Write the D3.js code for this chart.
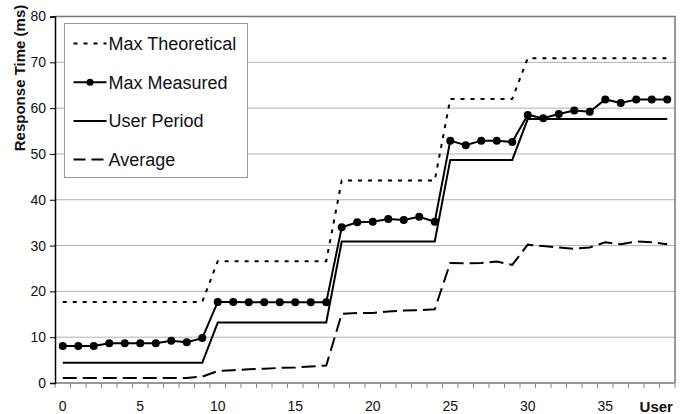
<!DOCTYPE html>
<html>
<head>
<meta charset="utf-8">
<script src="https://cdn.jsdelivr.net/npm/d3@7"></script>
<style>
  body { margin: 0; background: #fff; }
  text { font-family: "Liberation Sans", Arial, sans-serif; }
</style>
</head>
<body>
<div id="chart"></div>
<script>
// users 0..39
const users = d3.range(0, 40)
const xTickValues = [0, 5, 10, 15, 20, 25, 30, 35, 39]
const yTickValues = [0, 10, 20, 30, 40, 50, 60, 70, 80]

const maxTheoretical = [
  17.7, 17.7, 17.7, 17.7, 17.7, 17.7, 17.7, 17.7, 17.7, 17.7,
  26.6, 26.6, 26.6, 26.6, 26.6, 26.6, 26.6, 26.6,
  44.2, 44.2, 44.2, 44.2, 44.2, 44.2, 44.2,
  62.0, 62.0, 62.0, 62.0, 62.0,
  70.9, 70.9, 70.9, 70.9, 70.9, 70.9, 70.9, 70.9, 70.9, 70.9,
]
const maxMeasured = [
  8.1, 8.1, 8.1, 8.7, 8.7, 8.7, 8.7, 9.2, 8.9, 9.8,
  17.7, 17.7, 17.6, 17.6, 17.6, 17.6, 17.6, 17.6,
  34.0, 35.1, 35.2, 35.8, 35.6, 36.3, 35.2,
  52.9, 51.9, 52.9, 52.9, 52.6,
  58.5, 57.8, 58.7, 59.5, 59.2, 61.9, 61.1, 61.9, 61.9, 61.9,
]
const userPeriod = [
  4.4, 4.4, 4.4, 4.4, 4.4, 4.4, 4.4, 4.4, 4.4, 4.4,
  13.2, 13.2, 13.2, 13.2, 13.2, 13.2, 13.2, 13.2,
  30.9, 30.9, 30.9, 30.9, 30.9, 30.9, 30.9,
  48.7, 48.7, 48.7, 48.7, 48.7,
  57.6, 57.6, 57.6, 57.6, 57.6, 57.6, 57.6, 57.6, 57.6, 57.6,
]
const average = [
  1.1, 1.1, 1.1, 1.1, 1.1, 1.1, 1.1, 1.1, 1.1, 1.4,
  2.6, 2.8, 3.0, 3.1, 3.3, 3.4, 3.6, 3.8,
  15.1, 15.3, 15.3, 15.6, 15.8, 15.9, 16.1,
  26.2, 26.1, 26.2, 26.5, 25.8,
  30.2, 29.9, 29.6, 29.3, 29.6, 30.7, 30.3, 30.9, 30.7, 30.3,
]

const seriesNames = ['Max Theoretical', 'Max Measured', 'User Period', 'Average']
const seriesData = [maxTheoretical, maxMeasured, userPeriod, average]

const width = 695,
  height = 414

const styles = {
  'Max Theoretical': { dash: '4,6', dots: false },
  'Max Measured': { dash: null, dots: true },
  'User Period': { dash: null, dots: false },
  'Average': { dash: '14,6', dots: false },
}

const svg = d3
  .select('#chart')
  .append('svg')
  .attr('width', width)
  .attr('height', height)

const x = d3.scaleBand().domain(users).range([55, 675]).padding(0)
const y = d3.scaleLinear().domain([0, 80]).range([383, 16.5])
const cx = d => x(d) + x.bandwidth() / 2

// gridlines
svg
  .append('g')
  .selectAll('line')
  .data(yTickValues.filter(v => v > 0 && v < 80))
  .enter()
  .append('line')
  .attr('x1', x.range()[0])
  .attr('x2', x.range()[1])
  .attr('y1', d => y(d))
  .attr('y2', d => y(d))
  .attr('stroke', '#b0b0b0')
  .attr('stroke-width', 1)

// top and right border
svg
  .append('path')
  .attr('d', `M${x.range()[0]},${y(80)}H${x.range()[1]}V${y(0)}`)
  .attr('fill', 'none')
  .attr('stroke', '#777')
  .attr('stroke-width', 1.5)

// x axis: ticks on category boundaries
const xAxisG = svg.append('g').attr('transform', `translate(0,${y(0)})`)
xAxisG
  .append('line')
  .attr('x1', x.range()[0])
  .attr('x2', x.range()[1])
  .attr('stroke', '#777')
  .attr('stroke-width', 1.5)
xAxisG
  .selectAll('.bt')
  .data(d3.range(0, 41))
  .enter()
  .append('line')
  .attr('class', 'bt')
  .attr('x1', d => (d < 40 ? x(d) : x.range()[1]))
  .attr('x2', d => (d < 40 ? x(d) : x.range()[1]))
  .attr('y1', 0)
  .attr('y2', 5)
  .attr('stroke', '#888')

const xAxis = d3
  .axisBottom(x)
  .tickValues(xTickValues)
  .tickSize(0)
  .tickPadding(18)
  .tickFormat(d => (d === 39 ? 'User' : d))
const xLabels = svg
  .append('g')
  .attr('transform', `translate(0,${y(0)})`)
  .call(xAxis)
xLabels.select('.domain').remove()
xLabels
  .selectAll('text')
  .attr('font-size', 14)
  .attr('fill', '#111')
  .attr('font-family', '"Liberation Sans", Arial, sans-serif')
xLabels
  .selectAll('.tick')
  .filter(d => d === 39)
  .select('text')
  .attr('font-weight', 'bold')
  .attr('font-size', 15)
  .attr('dx', -11)

// y axis
const yAxis = d3.axisLeft(y).tickValues(yTickValues).tickSize(5).tickPadding(4)
const yG = svg
  .append('g')
  .attr('transform', `translate(${x.range()[0]},0)`)
  .call(yAxis)
yG.select('.domain').attr('stroke', '#000').attr('stroke-width', 1.5)
yG
  .selectAll('text')
  .attr('font-size', 14)
  .attr('fill', '#111')
  .attr('font-family', '"Liberation Sans", Arial, sans-serif')

svg
  .append('text')
  .attr('transform', 'translate(25,78) rotate(-90)')
  .attr('text-anchor', 'middle')
  .attr('font-size', 15)
  .attr('font-weight', 'bold')
  .attr('fill', '#111')
  .text('Response Time (ms)')

// series
const line = d3
  .line()
  .x((d, i) => cx(users[i]))
  .y(d => y(d))

seriesNames.forEach((name, si) => {
  const st = styles[name]
  svg
    .append('path')
    .datum(seriesData[si])
    .attr('d', line)
    .attr('fill', 'none')
    .attr('stroke', '#000')
    .attr('stroke-width', 2)
    .attr('stroke-dasharray', st.dash)
  if (st.dots) {
    svg
      .append('g')
      .selectAll('circle')
      .data(seriesData[si])
      .enter()
      .append('circle')
      .attr('cx', (d, i) => cx(users[i]))
      .attr('cy', d => y(d))
      .attr('r', 4)
      .attr('fill', '#000')
  }
})

// legend
const legend = svg.append('g').attr('transform', 'translate(64.5,23.5)')
legend
  .append('rect')
  .attr('width', 183)
  .attr('height', 154)
  .attr('fill', '#fff')
  .attr('stroke', '#999')
  .attr('stroke-width', 1)

const rows = legend
  .selectAll('.row')
  .data(seriesNames)
  .enter()
  .append('g')
  .attr('transform', (d, i) => `translate(9,${20 + i * 38.7})`)

rows
  .append('line')
  .attr('x1', 0)
  .attr('x2', 33)
  .attr('stroke', '#000')
  .attr('stroke-width', 2)
  .attr('stroke-dasharray', d => (d === 'Average' ? '12,6' : styles[d].dash))

rows
  .filter(d => styles[d].dots)
  .append('circle')
  .attr('cx', 16.5)
  .attr('r', 3.5)
  .attr('fill', '#000')

rows
  .append('text')
  .attr('x', 35)
  .attr('dy', '0.35em')
  .attr('font-size', 18)
  .attr('fill', '#111')
  .text(d => d)
</script>
</body>
</html>
